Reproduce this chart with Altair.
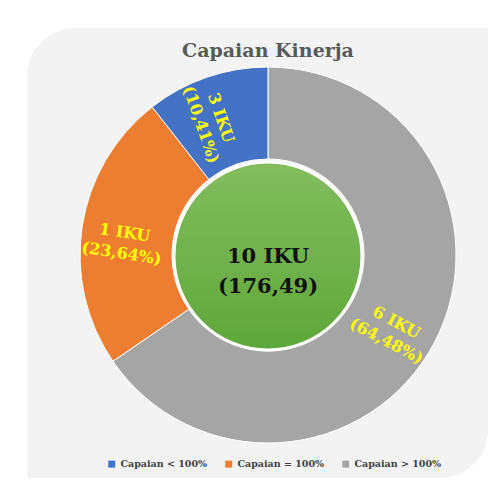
import altair as alt
import pandas as pd

# ---- data ----
CATEGORIES = ["Capaian > 100%", "Capaian = 100%", "Capaian < 100%"]
PERCENTS = [64.48, 23.64, 10.41]
IKU_COUNTS = [6, 1, 3]
PERCENT_TEXT = ["64,48%", "23,64%", "10,41%"]
LEGEND_ORDER = ["Capaian < 100%", "Capaian = 100%", "Capaian > 100%"]
LEGEND_COLORS = ["#4472C4", "#ED7D31", "#A5A5A5"]
TITLE = "Capaian Kinerja"
CENTER_LINES = ["10 IKU", "(176,49)"]

# ---- layout ----
W, H = 484, 476
CX, CY = 260, 247
R_OUT, R_IN = 188, 96
R_CENTER = 94
FONT = "DejaVu Serif"

df = pd.DataFrame({
    "category": CATEGORIES,
    "value": PERCENTS,
    "ord": list(range(len(CATEGORIES))),
    "label": [f"{n} IKU\n({p})" for n, p in zip(IKU_COUNTS, PERCENT_TEXT)],
})
one = pd.DataFrame({"t": ["\n".join(CENTER_LINES)], "title": [TITLE]})

panel = alt.Chart(one).mark_rect(
    fill="#f3f3f3", cornerRadiusTopLeft=48, cornerRadiusBottomRight=48
).encode(x=alt.value(19), x2=alt.value(480), y=alt.value(20), y2=alt.value(470))

base = alt.Chart(df).encode(
    theta=alt.Theta("value:Q", stack=True),
    order=alt.Order("ord:Q"),
    x=alt.value(CX),
    y=alt.value(CY),
)

arcs = base.mark_arc(outerRadius=R_OUT, innerRadius=R_IN, stroke="white", strokeWidth=1).encode(
    color=alt.Color(
        "category:N",
        scale=alt.Scale(domain=LEGEND_ORDER, range=LEGEND_COLORS),
        legend=alt.Legend(
            title=None, orient="none", legendX=99, legendY=451, direction="horizontal",
            symbolType="square", symbolSize=49, symbolStrokeWidth=0,
            labelFont=FONT, labelFontWeight="bold", labelFontSize=9.5, labelColor="#404040",
            labelOffset=4, columnPadding=16,
        ),
    )
)

labels = base.transform_joinaggregate(total="sum(value)").transform_window(
    cum="sum(value)", sort=[alt.SortField("ord")], frame=[None, 0]
).transform_calculate(
    mid="(datum.cum - datum.value / 2) / datum.total * 360"
).transform_calculate(
    rot="(datum.mid - 90 > 90 && datum.mid - 90 < 270) ? datum.mid - 270 : datum.mid - 90"
).mark_text(
    radius=145, font=FONT, fontWeight="bold", fontSize=16, lineHeight=21,
    lineBreak="\n", color="#FFFF00", align="center", baseline="middle",
).encode(text="label:N", angle=alt.Angle("rot:Q", scale=None))

green = alt.Gradient(
    gradient="linear",
    stops=[alt.GradientStop(color="#83bd5e", offset=0), alt.GradientStop(color="#5fa73a", offset=1)],
    x1=0, x2=0, y1=0, y2=1,
)
center = alt.Chart(one).mark_circle(
    size=(2 * R_CENTER) ** 2, fill=green, stroke="white", strokeWidth=3, opacity=1
).encode(x=alt.value(CX), y=alt.value(CY + 1))

center_text = alt.Chart(one).mark_text(
    font=FONT, fontWeight="bold", fontSize=21, lineHeight=30, lineBreak="\n",
    color="#111111", align="center", baseline="middle",
).encode(text="t:N", x=alt.value(CX), y=alt.value(CY + 2))

title = alt.Chart(one).mark_text(
    font=FONT, fontWeight="bold", fontSize=19, color="#595959", align="center", baseline="alphabetic",
).encode(text="title:N", x=alt.value(CX), y=alt.value(49))

chart = alt.layer(panel, arcs, center, labels, center_text, title).properties(
    width=W, height=H, padding=0, autosize=alt.AutoSizeParams(type="none"), background="white"
).configure_view(stroke=None)

chart.save("out.html", embed_options={"renderer": "svg", "actions": False})
